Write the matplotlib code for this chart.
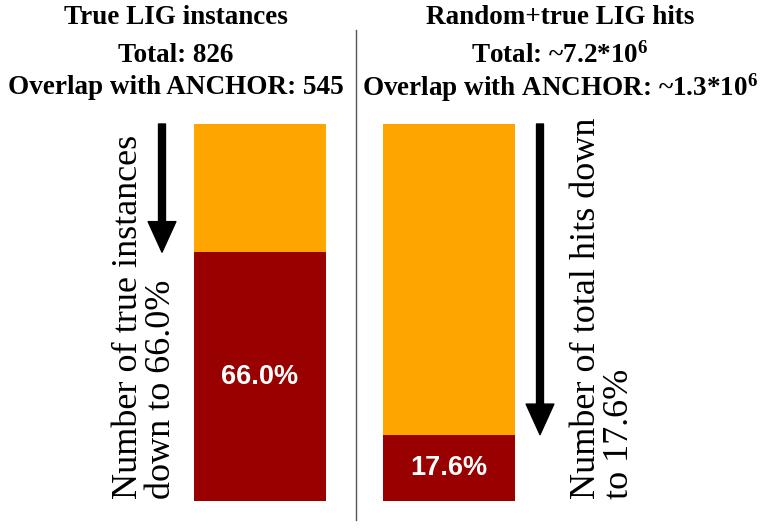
import matplotlib
matplotlib.use("Agg")
import matplotlib.pyplot as plt
from matplotlib.lines import Line2D

plt.rcParams["mathtext.default"] = "regular"

# data
groups = ["True LIG instances", "Random+true LIG hits"]
totals = ["826", "~7.2*10$^{6}$"]
overlaps = ["545", "~1.3*10$^{6}$"]
overlap_pct = [66.0, 17.6]
rest_pct = [100 - p for p in overlap_pct]

orange = "#FFA500"
dark_red = "#990000"
serif = ["Liberation Serif", "DejaVu Serif"]

fig = plt.figure(figsize=(7.61, 5.31), dpi=100)
W, H = 761, 531

# axes placed so bars land where they are in the picture
ax = fig.add_axes([0, (H - 501) / H, 1, 377 / H])
step = 189.0
ax.set_xlim(-260 / step, (W - 260) / step)
ax.set_ylim(0, 100)
ax.axis("off")

xs = [0, 1]
bw = 132 / step
ax.bar(xs, overlap_pct, width=bw, color=dark_red)
ax.bar(xs, rest_pct, bottom=overlap_pct, width=bw, color=orange)

# percentage labels inside the red parts
for x, p in zip(xs, overlap_pct):
    ax.text(x, p / 2, f"{p:.1f}%", color="white", fontsize=19.5, fontweight="bold",
            family="Liberation Sans", ha="center", va="center")

# arrows going down to the overlap level
arrow_x = [(162 - 260) / step, (540 - 260) / step]
for ax_x, p in zip(arrow_x, overlap_pct):
    ax.annotate("", xy=(ax_x, p), xytext=(ax_x, 100),
                arrowprops=dict(facecolor="black", edgecolor="black", width=5,
                                headwidth=20, headlength=22, shrink=0))

# rotated side texts
ax.text((145 - 260) / step, 0.5, "Number of true instances\ndown to " + f"{overlap_pct[0]:.1f}%",
        rotation=90, ha="center", va="bottom", fontsize=26, family=serif,
        multialignment="left", linespacing=1.0)
ax.text((603 - 260) / step, 0.5, "Number of total hits down\nto " + f"{overlap_pct[1]:.1f}%",
        rotation=90, ha="center", va="bottom", fontsize=26, family=serif,
        multialignment="left", linespacing=1.0)

# headings
centers = [176 / W, 560 / W]
for cx, g, t, o in zip(centers, groups, totals, overlaps):
    fig.text(cx, 1 - 18 / H, g, ha="center", va="center", fontsize=19.5,
             fontweight="bold", family=serif)
    fig.text(cx, 1 - 55 / H, "Total: " + t, ha="center", va="center", fontsize=19.5,
             fontweight="bold", family=serif)
    fig.text(cx, 1 - 88 / H, "Overlap with ANCHOR: " + o, ha="center", va="center",
             fontsize=19.5, fontweight="bold", family=serif)

# divider
fig.add_artist(Line2D([356 / W, 356 / W], [1 - 30 / H, 1 - 520 / H],
                      color="#555555", lw=1))

plt.savefig("out.png", dpi=100)
